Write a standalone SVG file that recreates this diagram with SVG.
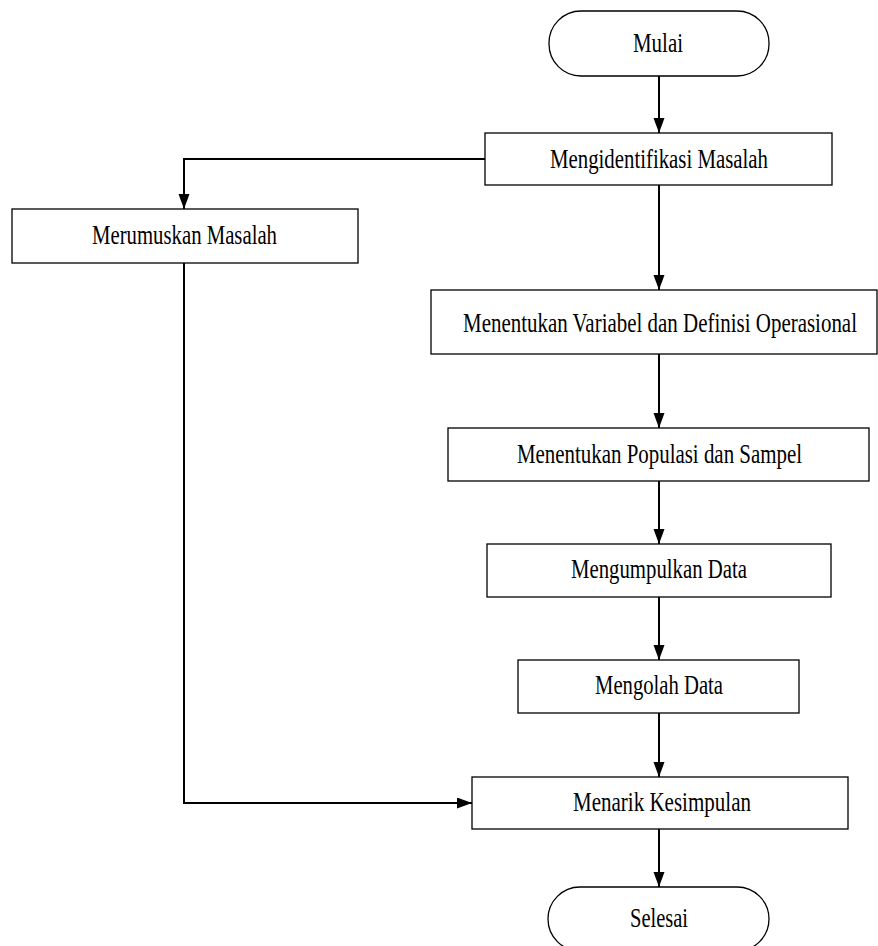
<svg xmlns="http://www.w3.org/2000/svg" width="878" height="946" viewBox="0 0 878 946">
<style>
.box{fill:#fff;stroke:#000;stroke-width:1.3}
.lbl{font-family:"Liberation Serif","Times New Roman",serif;font-size:27px;fill:#000;text-anchor:middle}
.con{fill:none;stroke:#000;stroke-width:2}
</style>
<defs>
<marker id="ah" markerUnits="userSpaceOnUse" markerWidth="16" markerHeight="12" refX="15" refY="5.5" orient="auto">
<path d="M0,0 L15,5.5 L0,11 z" fill="#000"/>
</marker>
</defs>
<rect width="878" height="946" fill="#fff"/>
<g id="connectors">
<path class="con" d="M659,76 V133" marker-end="url(#ah)"/>
<path class="con" d="M485,159 H184 V209" marker-end="url(#ah)"/>
<path class="con" d="M659,185 V290" marker-end="url(#ah)"/>
<path class="con" d="M659,354 V428" marker-end="url(#ah)"/>
<path class="con" d="M659,481 V544" marker-end="url(#ah)"/>
<path class="con" d="M659,597 V660" marker-end="url(#ah)"/>
<path class="con" d="M659,713 V777" marker-end="url(#ah)"/>
<path class="con" d="M184,263 V803 H472" marker-end="url(#ah)"/>
<path class="con" d="M659,829 V887" marker-end="url(#ah)"/>
</g>
<g id="mulai">
<rect class="box" x="549" y="11" width="220" height="65" rx="32" ry="32"/>
<text class="lbl" x="658" y="52" textLength="50" lengthAdjust="spacingAndGlyphs">Mulai</text>
</g>
<g id="mengidentifikasi">
<rect class="box" x="485" y="133" width="347" height="52"/>
<text class="lbl" x="659" y="168" textLength="218" lengthAdjust="spacingAndGlyphs">Mengidentifikasi Masalah</text>
</g>
<g id="merumuskan">
<rect class="box" x="12" y="209" width="346" height="54"/>
<text class="lbl" x="184.5" y="244" textLength="185" lengthAdjust="spacingAndGlyphs">Merumuskan Masalah</text>
</g>
<g id="variabel">
<rect class="box" x="431" y="290" width="446" height="64"/>
<text class="lbl" x="660" y="332" textLength="394" lengthAdjust="spacingAndGlyphs">Menentukan Variabel dan Definisi Operasional</text>
</g>
<g id="populasi">
<rect class="box" x="448" y="428" width="421" height="53"/>
<text class="lbl" x="659.5" y="463" textLength="285" lengthAdjust="spacingAndGlyphs">Menentukan Populasi dan Sampel</text>
</g>
<g id="mengumpulkan">
<rect class="box" x="487" y="544" width="344" height="53"/>
<text class="lbl" x="659" y="578" textLength="176" lengthAdjust="spacingAndGlyphs">Mengumpulkan Data</text>
</g>
<g id="mengolah">
<rect class="box" x="518" y="660" width="281" height="53"/>
<text class="lbl" x="659" y="694" textLength="128" lengthAdjust="spacingAndGlyphs">Mengolah Data</text>
</g>
<g id="menarik">
<rect class="box" x="472" y="777" width="376" height="52"/>
<text class="lbl" x="662" y="811" textLength="178" lengthAdjust="spacingAndGlyphs">Menarik Kesimpulan</text>
</g>
<g id="selesai">
<rect class="box" x="548" y="887" width="221" height="64" rx="32" ry="32"/>
<text class="lbl" x="659" y="927" textLength="58" lengthAdjust="spacingAndGlyphs">Selesai</text>
</g>
</svg>
